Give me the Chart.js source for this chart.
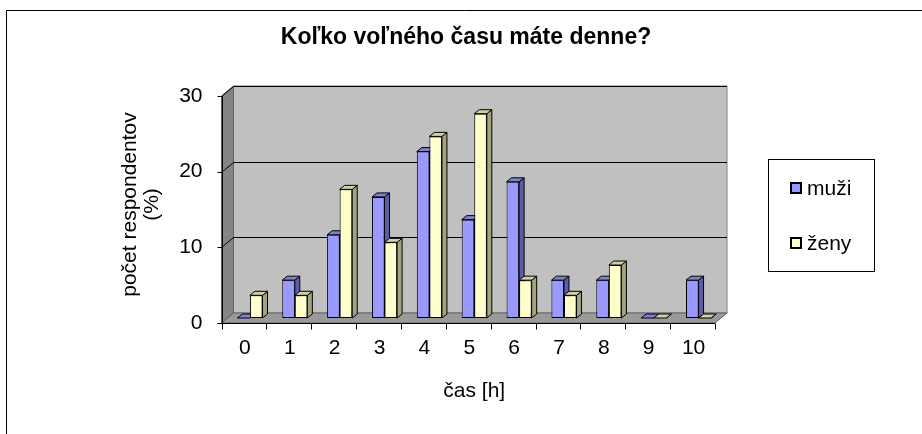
<!DOCTYPE html>
<html>
<head>
<meta charset="utf-8">
<script src="https://cdn.jsdelivr.net/npm/chart.js@4"></script>
<style>
    body { margin: 0; background: #fff; }
    #wrap { width: 922px; height: 434px; }
</style>
</head>
<body>
<div id="wrap"><canvas id="graf"></canvas></div>
<script>
// Údaje z grafu
const kategorie = ['0', '1', '2', '3', '4', '5', '6', '7', '8', '9', '10'];
const muzi = [0, 5, 11, 16, 22, 13, 18, 5, 5, 0, 5];
const zeny = [3, 3, 17, 10, 24, 27, 5, 3, 7, 0, 0];
const nazvySerii = ['muži', 'ženy'];
const yMax = 30;
const yKrok = 10;

const FONT = 'Liberation Sans, Arial, sans-serif';
const HLBKA = { dx: 6, dy: 5 };   // posun steny (3D)
const STLPEC = { dx: 5, dy: 4 };  // hĺbka stĺpca

// Steny, podlaha, mriežka a osi
const steny = {
    id: 'steny',
    beforeDraw(chart) {
        const ctx = chart.ctx;
        const a = chart.chartArea;
        const y = chart.scales.y;
        const x0 = a.left, x1 = a.right;
        const yT = y.getPixelForValue(yMax), yB = y.getPixelForValue(0);
        const d = HLBKA;
        ctx.save();
        // okraj
        ctx.strokeStyle = '#000';
        ctx.lineWidth = 1;
        ctx.beginPath();
        ctx.moveTo(6.5, 434); ctx.lineTo(6.5, 10.5); ctx.lineTo(922, 10.5);
        ctx.stroke();
        // zadná stena
        ctx.fillStyle = '#c0c0c0';
        ctx.fillRect(x0 + d.dx, yT - d.dy, x1 - x0, yB - yT);
        ctx.strokeStyle = '#808080';
        ctx.strokeRect(x0 + d.dx, yT - d.dy, x1 - x0, yB - yT);
        // bočná stena
        ctx.fillStyle = '#858585';
        ctx.beginPath();
        ctx.moveTo(x0 - d.dx, yT + d.dy);
        ctx.lineTo(x0 + d.dx, yT - d.dy);
        ctx.lineTo(x0 + d.dx, yB - d.dy);
        ctx.lineTo(x0 - d.dx, yB + d.dy);
        ctx.closePath();
        ctx.fill();
        ctx.strokeStyle = '#606060';
        ctx.stroke();
        // podlaha
        ctx.fillStyle = '#9a9a9a';
        ctx.beginPath();
        ctx.moveTo(x0 - d.dx, yB + d.dy);
        ctx.lineTo(x0 + d.dx, yB - d.dy);
        ctx.lineTo(x1 + d.dx, yB - d.dy);
        ctx.lineTo(x1 - d.dx, yB + d.dy);
        ctx.closePath();
        ctx.fill();
        ctx.strokeStyle = '#606060';
        ctx.stroke();
        // mriežka
        ctx.strokeStyle = '#000';
        for (let v = yKrok; v <= yMax; v += yKrok) {
            const py = Math.round(y.getPixelForValue(v)) + 0.5;
            ctx.beginPath();
            ctx.moveTo(x0 - d.dx, py + d.dy);
            ctx.lineTo(x0 + d.dx, py - d.dy);
            ctx.lineTo(x1 + d.dx, py - d.dy);
            ctx.stroke();
        }
        // os y
        const fx = Math.round(x0 - d.dx) + 0.5;
        ctx.beginPath();
        ctx.moveTo(fx, yT + d.dy); ctx.lineTo(fx, yB + d.dy);
        for (let v = 0; v <= yMax; v += yKrok) {
            const py = Math.round(y.getPixelForValue(v) + d.dy) + 0.5;
            ctx.moveTo(fx - 5, py); ctx.lineTo(fx, py);
        }
        ctx.stroke();
        // os x
        const fy = Math.round(yB + d.dy) + 0.5;
        ctx.beginPath();
        ctx.moveTo(x0 - d.dx, fy); ctx.lineTo(x1 - d.dx, fy);
        const sirka = (x1 - x0) / kategorie.length;
        for (let i = 0; i <= kategorie.length; i++) {
            const px = Math.round(x0 - d.dx + i * sirka) + 0.5;
            ctx.moveTo(px, fy); ctx.lineTo(px, fy + 6);
        }
        ctx.stroke();
        ctx.restore();
    }
};

// Bočné a horné plochy stĺpcov
const tienStlpcov = {
    id: 'tienStlpcov',
    beforeDatasetsDraw(chart) {
        const ctx = chart.ctx;
        const farby = [['#5c5ca8', '#7f7fd6'], ['#a3a37e', '#d1d1a6']];
        ctx.save();
        ctx.strokeStyle = '#000';
        ctx.lineWidth = 1;
        chart.data.datasets.forEach((ds, i) => {
            chart.getDatasetMeta(i).data.forEach(bar => {
                const { x, y, base, width } = bar.getProps(['x', 'y', 'base', 'width'], true);
                const l = x - width / 2, r = x + width / 2;
                const d = STLPEC;
                // bok
                ctx.fillStyle = farby[i][0];
                ctx.beginPath();
                ctx.moveTo(r, y); ctx.lineTo(r + d.dx, y - d.dy);
                ctx.lineTo(r + d.dx, base - d.dy); ctx.lineTo(r, base);
                ctx.closePath(); ctx.fill(); ctx.stroke();
                // vrch
                ctx.fillStyle = farby[i][1];
                ctx.beginPath();
                ctx.moveTo(l, y); ctx.lineTo(l + d.dx, y - d.dy);
                ctx.lineTo(r + d.dx, y - d.dy); ctx.lineTo(r, y);
                ctx.closePath(); ctx.fill(); ctx.stroke();
            });
        });
        ctx.restore();
    }
};

// Nadpis a legenda
const nadpisLegenda = {
    id: 'nadpisLegenda',
    afterDraw(chart) {
        const ctx = chart.ctx;
        ctx.save();
        ctx.fillStyle = '#000';
        ctx.font = 'bold 23px ' + FONT;
        ctx.textAlign = 'center';
        ctx.textBaseline = 'middle';
        ctx.fillText('Koľko voľného času máte denne?', 466, 38);

        ctx.fillStyle = '#fff';
        ctx.fillRect(768.5, 159.5, 106, 112);
        ctx.strokeStyle = '#000';
        ctx.strokeRect(768.5, 159.5, 106, 112);
        ctx.font = '21px ' + FONT;
        ctx.textAlign = 'left';
        const riadky = [188, 243];
        chart.data.datasets.forEach((ds, i) => {
            ctx.fillStyle = ds.backgroundColor;
            ctx.fillRect(791, riadky[i] - 5, 10, 10);
            ctx.lineWidth = 2;
            ctx.strokeStyle = '#000';
            ctx.strokeRect(791, riadky[i] - 5, 10, 10);
            ctx.fillStyle = '#000';
            ctx.fillText(ds.label, 807, riadky[i] + 1);
        });
        ctx.restore();
    }
};

new Chart(document.getElementById('graf'), {
    type: 'bar',
    data: {
        labels: kategorie,
        datasets: [
            {
                label: nazvySerii[0],
                data: muzi,
                backgroundColor: '#9999ff',
                borderColor: '#000',
                borderWidth: 1,
                borderSkipped: false
            },
            {
                label: nazvySerii[1],
                data: zeny,
                backgroundColor: '#ffffcc',
                borderColor: '#000',
                borderWidth: 1,
                borderSkipped: false
            }
        ]
    },
    options: {
        responsive: true,
        maintainAspectRatio: false,
        animation: false,
        layout: { padding: { left: 0, right: 201, top: 91, bottom: 0 } },
        plugins: {
            legend: { display: false },
            title: { display: false },
            tooltip: { enabled: false }
        },
        datasets: {
            bar: { categoryPercentage: 0.56, barPercentage: 1 }
        },
        scales: {
            x: {
                grid: { display: false, drawTicks: false },
                border: { display: false },
                ticks: {
                    color: '#000',
                    font: { family: FONT, size: 21 },
                    padding: 18,
                    labelOffset: -5,
                    maxRotation: 0
                },
                title: {
                    display: true,
                    text: 'čas [h]',
                    color: '#000',
                    font: { family: FONT, size: 21, lineHeight: 1.05 },
                    padding: { top: 0, bottom: 32 }
                },
                afterFit(scale) { scale.height = 116; }
            },
            y: {
                min: 0,
                max: yMax,
                grid: { display: false, drawTicks: false },
                border: { display: false },
                ticks: {
                    stepSize: yKrok,
                    color: '#000',
                    font: { family: FONT, size: 21 },
                    padding: 25,
                    labelOffset: 5
                },
                title: {
                    display: true,
                    text: ['počet respondentov', '(%)'],
                    color: '#000',
                    font: { family: FONT, size: 21, lineHeight: 1.05 },
                    padding: { top: 119.5, bottom: 0 }
                },
                afterFit(scale) { scale.width = 227.5; }
            }
        }
    },
    plugins: [steny, tienStlpcov, nadpisLegenda]
});
</script>
</body>
</html>
